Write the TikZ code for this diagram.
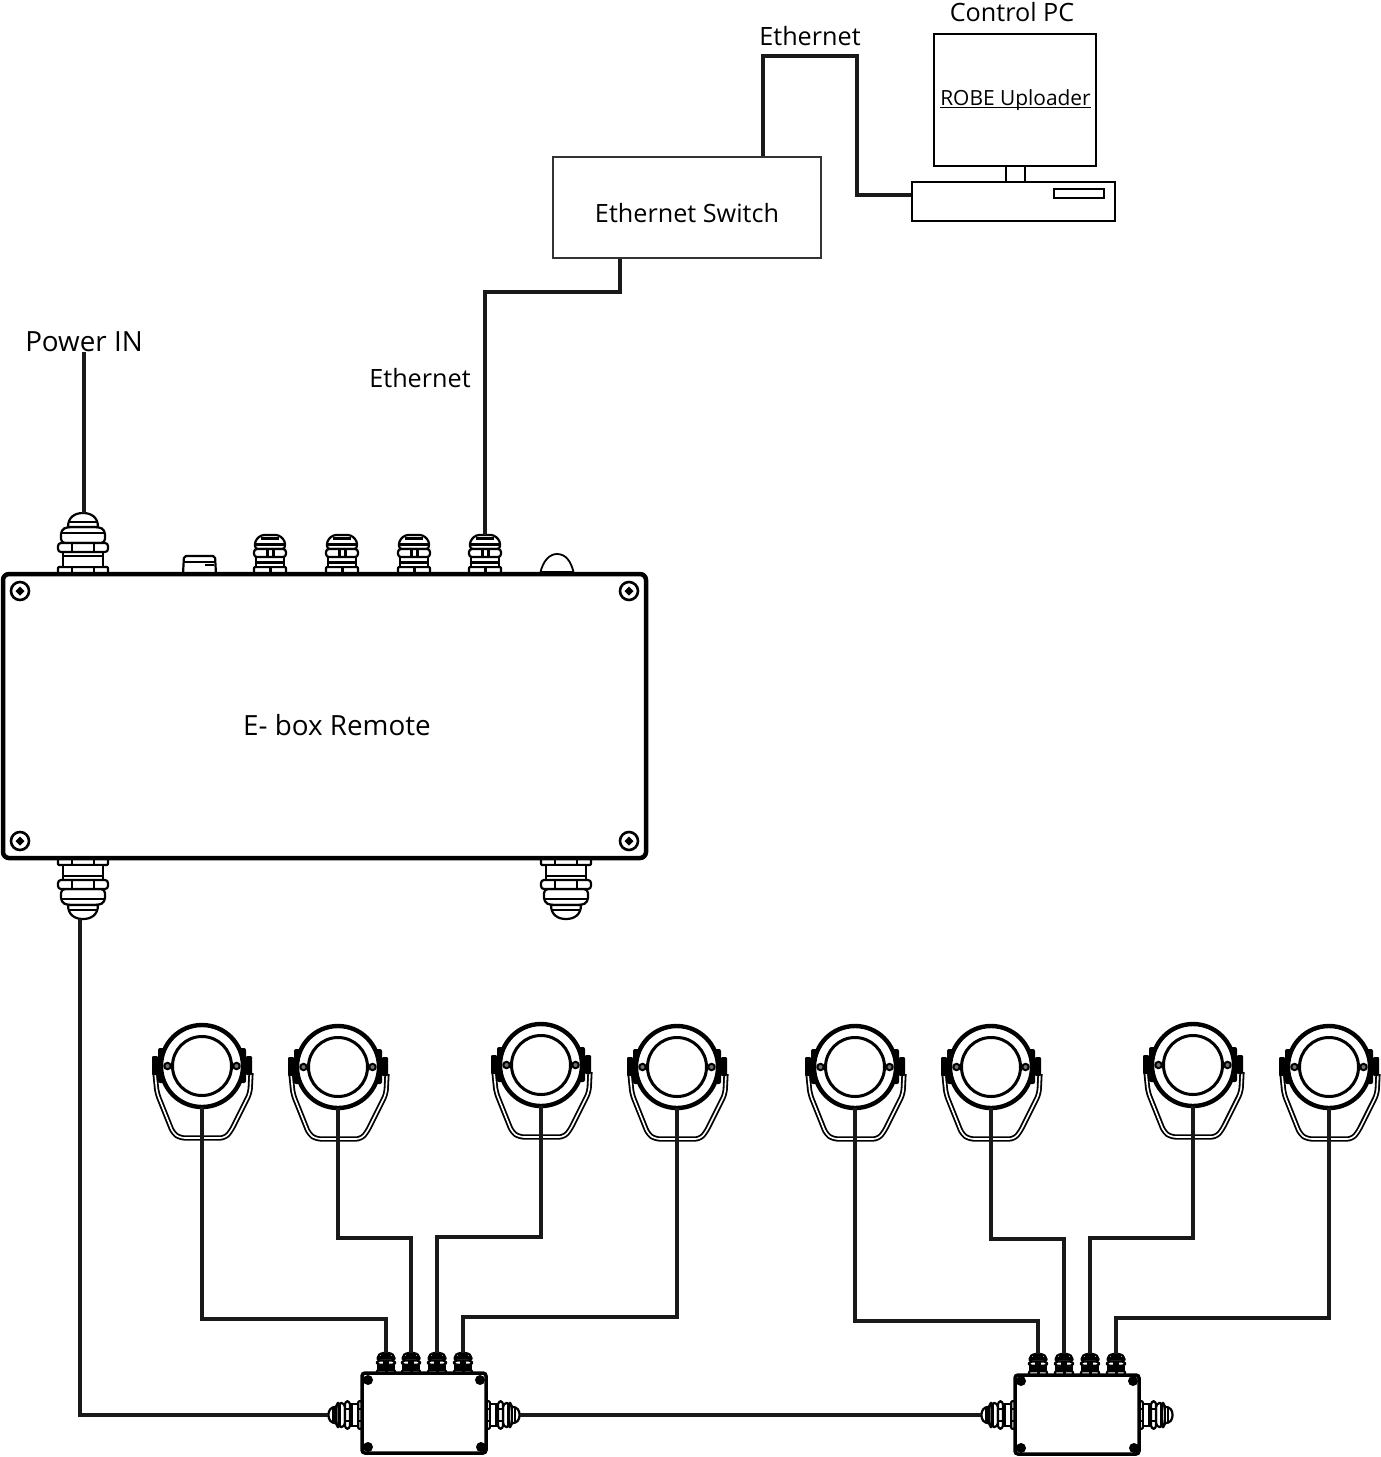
\documentclass[tikz,border=0pt]{standalone}
\usepackage{fontspec}
\setmainfont{Open Sans}
\usepackage{tikz}
\tikzstyle{txt} = [inner sep=0pt, font=\fontsize{25.2}{27}\selectfont]
\tikzstyle{bigtxt} = [inner sep=0pt, font=\fontsize{27.8}{30}\selectfont]
\tikzstyle{thinbox} = [rectangle, draw=black!80, line width=1.1pt, fill=white]
\tikzstyle{pcbox} = [rectangle, draw=black, line width=2.6pt, fill=white]
\tikzstyle{ebox} = [rectangle, rounded corners=6pt, draw=black, line width=4.5pt, fill=white]
\tikzstyle{jbox} = [rectangle, rounded corners=3pt, draw=black, line width=3.5pt, fill=white]
\tikzstyle{bolt} = [circle, fill=black, inner sep=0pt, minimum size=10pt]
\tikzstyle{cable} = [line width=3.6pt, draw=black!90, line join=miter]
\tikzstyle{gland} = [draw=black, line width=2.2pt, fill=white, line join=round]
\tikzset{
   biggland/.pic={
      \draw [gland, rounded corners=1pt] (-25,0) rectangle (25,-7);
      \draw [gland] (-20,-7) rectangle (20,-22);
      \draw [gland, rounded corners=4pt] (-22,-31) -- (-22,-44) -- (-16,-47) -- (16,-47) -- (22,-44) -- (22,-31) -- cycle;
      \draw [gland] (-15,-47) .. controls (-15,-57) and (-8,-61) .. (0,-61) .. controls (8,-61) and (15,-57) .. (15,-47) -- cycle;
      \draw [gland, rounded corners=3pt] (-25,-22) rectangle (25,-31);
      \draw [gland] (-20,-18) -- (20,-18);
      \draw [gland] (-22,-41) -- (22,-41);
      \draw [gland] (-15,-52) -- (15,-52);
      \draw [gland] (-11,-22) -- (-11,-31) (11,-22) -- (11,-31);
      \draw [gland] (-11,0) -- (-11,-7) (11,0) -- (11,-7);
      \coordinate (-tip) at (0,-61);
   },
   smallgland/.pic={
      \draw [gland, rounded corners=1pt] (-16,0) rectangle (16,-7);
      \draw [gland] (-14,-7) rectangle (14,-17);
      \draw [gland, rounded corners=3pt] (-15,-25) -- (-15,-33) -- (-9,-39) -- (9,-39) -- (15,-33) -- (15,-25) -- cycle;
      \draw [gland, rounded corners=3pt] (-16,-17) rectangle (16,-25);
      \draw [gland, line width=3pt] (-14,-12) -- (14,-12);
      \draw [gland, line width=3pt] (-14,-30) -- (14,-30);
      \draw [gland, line width=3pt] (-9,-36) -- (9,-36);
      \draw [gland, line width=3pt] (-3,-17) -- (-3,-25) (3,-17) -- (3,-25);
      \draw [gland, line width=3pt] (0,0) -- (0,-7);
      \coordinate (-tip) at (0,-39);
   },
   screw/.pic={
      \draw [line width=2.6pt, fill=white] (0,0) circle (9pt);
      \fill [black] (-4.5,0) -- (0,-4.5) -- (4.5,0) -- (0,4.5) -- cycle;
   },
   lamp/.pic={
      \draw [line width=1.8pt, rounded corners=5pt, double=white, double distance=1.6pt, draw=black] (-47,7) -- (-45,27) -- (-29,67) -- (-22,72) -- (23,72) -- (29,65) -- (48,27) -- (49,7);
      \fill [black, rounded corners=1pt] (-50,-10) rectangle (-44,9);
      \fill [black, rounded corners=1pt] (44,-10) rectangle (50,9);
      \fill [black, rounded corners=2pt] (-44,-18) rectangle (-37,17);
      \fill [black, rounded corners=2pt] (37,-18) rectangle (44,17);
      \draw [line width=4.4pt, fill=white] (0,0) circle (41pt);
      \draw [line width=3pt, fill=white] (0,0) circle (29.5pt);
      \draw [line width=2pt, fill=black!55] (-34.5,0) circle (3.2pt);
      \draw [line width=2pt, fill=black!55] (34.5,0) circle (3.2pt);
      \coordinate (-bottom) at (0,41);
   }
}

\begin{document}
\begin{tikzpicture}[x=1pt, y=-1pt]

   \useasboundingbox (0,0) rectangle (1381,1457);

   \node (pctitle) [txt] at (1012,12) {Control PC};
   \node (monitor) [pcbox, minimum width=162pt, minimum height=132pt] at (1015,100) {};
   \node (neck) [pcbox, minimum width=19pt, minimum height=16pt] at (1015.5,174) {};
   \node (base) [pcbox, minimum width=203pt, minimum height=39pt] at (1013.5,201.5) {};
   \node (slot) [pcbox, line width=2pt, minimum width=50pt, minimum height=9pt] at (1079,193.5) {};
   \node (robe) [txt, font=\fontsize{20.9}{23}\selectfont] at (1015.5,100.5) {ROBE Uploader};
   \draw [line width=1pt] ([yshift=-1.5pt]robe.base west) -- ([yshift=-1.5pt]robe.base east);

   \node (switch) [thinbox, minimum width=268pt, minimum height=101pt] at (687,207.5) {};
   \node (switchtxt) [txt] at (687,213) {Ethernet Switch};
   \node (ethtop) [txt] at (810,36) {Ethernet};
   \node (ethmid) [txt] at (420,378) {Ethernet};
   \node (power) [bigtxt] at (84,342) {Power IN};
   \coordinate (ethbend) at (857,56);

   \pic (portpower) at (83,574) {biggland};
   \pic (porta) at (270,574) {smallgland};
   \pic (portb) at (342,574) {smallgland};
   \pic (portc) at (414,574) {smallgland};
   \pic (portd) at (485,574) {smallgland};
   \pic [rotate=180] (portout) at (83,858) {biggland};
   \pic [rotate=180] (portspare) at (566,858) {biggland};

   \draw [gland, rounded corners=2pt] (183,574) -- (184,556) -- (215,556) -- (216,574) -- cycle;
   \draw [gland] (184,562) -- (215,562);
   \draw [gland, line width=2.6pt] (205,565) -- (214,565);
   \draw [gland, line width=1.8pt] (540,574) .. controls (543,560) and (550,554) .. (557,554) .. controls (565,554) and (571,560) .. (574,574) -- cycle;
   \draw [gland, line width=2pt] (541,571.5) -- (573,571.5);

   \node (ebox) [ebox, minimum width=643pt, minimum height=284pt] at (324.5,716) {};
   \node (eboxtxt) [bigtxt] at (337,725) {E- box Remote};
   \pic at (20,591) {screw};
   \pic at (629,591) {screw};
   \pic at (20,841) {screw};
   \pic at (629,841) {screw};

   \pic (lampa) at (202,1066) {lamp};
   \pic (lampb) at (338,1067) {lamp};
   \pic (lampc) at (541,1065) {lamp};
   \pic (lampd) at (677,1067) {lamp};
   \pic (lampe) at (855,1067) {lamp};
   \pic (lampf) at (991,1067) {lamp};
   \pic (lampg) at (1193,1065) {lamp};
   \pic (lamph) at (1329,1067) {lamp};

   \pic [xscale=.56, yscale=.54] (jaa) at (386,1374) {smallgland};
   \pic [xscale=.56, yscale=.54] (jab) at (411,1374) {smallgland};
   \pic [xscale=.56, yscale=.54] (jac) at (437,1374) {smallgland};
   \pic [xscale=.56, yscale=.54] (jad) at (463,1374) {smallgland};
   \pic [scale=.55, rotate=90] (jawest) at (362,1415) {biggland};
   \pic [scale=.55, rotate=-90] (jaeast) at (486,1415) {biggland};
   \node (jboxa) [jbox, minimum width=124pt, minimum height=80pt] at (424,1413) {};
   \node (jaboltnw) [bolt] at (368,1380) {};
   \node (jaboltne) [bolt] at (480,1380) {};
   \node (jaboltsw) [bolt] at (368,1447) {};
   \node (jaboltse) [bolt] at (481,1447) {};

   \pic [xscale=.56, yscale=.54] (jba) at (1038,1375) {smallgland};
   \pic [xscale=.56, yscale=.54] (jbb) at (1064,1375) {smallgland};
   \pic [xscale=.56, yscale=.54] (jbc) at (1090,1375) {smallgland};
   \pic [xscale=.56, yscale=.54] (jbd) at (1116,1375) {smallgland};
   \pic [scale=.55, rotate=90] (jbwest) at (1015,1415) {biggland};
   \pic [scale=.55, rotate=-90] (jbeast) at (1139,1415) {biggland};
   \node (jboxb) [jbox, minimum width=124pt, minimum height=79pt] at (1077,1414.5) {};
   \node (jbboltnw) [bolt] at (1021,1381) {};
   \node (jbboltne) [bolt] at (1133,1381) {};
   \node (jbboltsw) [bolt] at (1021,1448) {};
   \node (jbboltse) [bolt] at (1134,1448) {};

   \draw [cable] (power.south) -- (power.south |- portpower-tip);
   \draw [cable] (portd-tip) -- ++(0,-243) -| (switch.south -| 620,0);
   \draw [cable] (switch.north -| 763,0) |- (ethbend) |- (base.west |- 0,195);
   \draw [cable] ([xshift=-3pt]portout-tip) |- (jawest-tip);
   \draw [cable] (jaeast-tip) -- (jbwest-tip);

   \draw [cable] (lampa-bottom) -- ++(0,212) -| (jaa-tip);
   \draw [cable] (lampb-bottom) -- ++(0,130) -| (jab-tip);
   \draw [cable] (lampc-bottom) -- ++(0,131) -| (jac-tip);
   \draw [cable] (lampd-bottom) -- ++(0,209) -| (jad-tip);
   \draw [cable] (lampe-bottom) -- ++(0,213) -| (jba-tip);
   \draw [cable] (lampf-bottom) -- ++(0,131) -| (jbb-tip);
   \draw [cable] (lampg-bottom) -- ++(0,132) -| (jbc-tip);
   \draw [cable] (lamph-bottom) -- ++(0,210) -| (jbd-tip);

\end{tikzpicture}
\end{document}
